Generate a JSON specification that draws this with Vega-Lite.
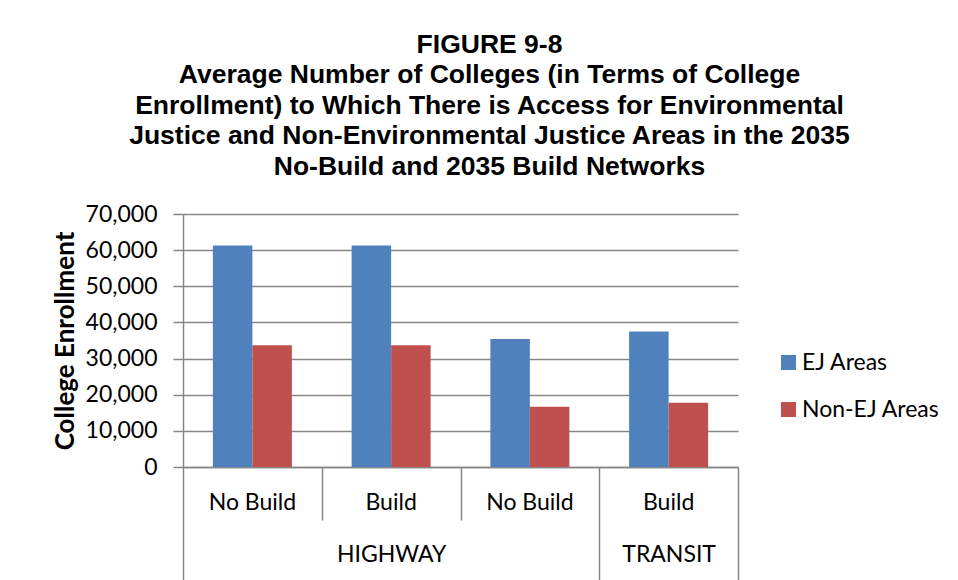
{
  "$schema": "https://vega.github.io/schema/vega-lite/v6.json",
  "width": 555,
  "height": 253,
  "autosize": "none",
  "padding": {"left": 183, "top": 214, "right": 220, "bottom": 113},
  "background": "white",
  "config": {"view": {"stroke": null}, "font": "Lato"},
  "title": {
    "text": ["FIGURE 9-8", "Average Number of Colleges (in Terms of College", "Enrollment) to Which There is Access for Environmental", "Justice and Non-Environmental Justice Areas in the 2035", "No-Build and 2035 Build Networks"],
    "font": "Liberation Sans",
    "fontSize": 26.5,
    "fontWeight": "bold",
    "lineHeight": 30.5,
    "anchor": "middle",
    "dx": 29,
    "offset": 23,
    "color": "black"
  },
  "layer": [
    {
      "data": {"values": [
        {"scenario": "HIGHWAY|No Build", "series": "EJ Areas", "value": 61300},
        {"scenario": "HIGHWAY|No Build", "series": "Non-EJ Areas", "value": 33700},
        {"scenario": "HIGHWAY|Build", "series": "EJ Areas", "value": 61300},
        {"scenario": "HIGHWAY|Build", "series": "Non-EJ Areas", "value": 33700},
        {"scenario": "TRANSIT|No Build", "series": "EJ Areas", "value": 35400},
        {"scenario": "TRANSIT|No Build", "series": "Non-EJ Areas", "value": 16700},
        {"scenario": "TRANSIT|Build", "series": "EJ Areas", "value": 37500},
        {"scenario": "TRANSIT|Build", "series": "Non-EJ Areas", "value": 17800}
      ]},
      "mark": {"type": "bar"},
      "encoding": {
        "x": {
          "field": "scenario", "type": "nominal", "sort": null,
          "scale": {"paddingInner": 0, "paddingOuter": 0},
          "axis": {"orient": "bottom", "title": null, "ticks": false, "labelAngle": 0,
            "labelExpr": "split(datum.label, '|')[1]",
            "labelFont": "Lato", "labelFontSize": 23, "labelColor": "black", "labelPadding": 24,
            "domainColor": "#868686", "domainWidth": 1.5}
        },
        "xOffset": {
          "field": "series", "type": "nominal", "sort": ["EJ Areas", "Non-EJ Areas"],
          "scale": {"paddingInner": 0, "paddingOuter": 0.756}
        },
        "y": {
          "field": "value", "type": "quantitative",
          "scale": {"domain": [0, 70000], "nice": false},
          "axis": {"values": [0, 10000, 20000, 30000, 40000, 50000, 60000, 70000], "format": ",d",
            "title": "College Enrollment", "titleFont": "Lato", "titleFontSize": 26, "titleFontWeight": "bold",
            "titleColor": "black", "titlePadding": 7,
            "labelFont": "Lato", "labelFontSize": 23, "labelColor": "black", "labelPadding": 16,
            "tickSize": 10, "tickColor": "#868686", "tickWidth": 1.5,
            "domainColor": "#868686", "domainWidth": 1.5,
            "gridColor": "#868686", "gridWidth": 1.5}
        },
        "color": {
          "field": "series", "type": "nominal",
          "scale": {"domain": ["EJ Areas", "Non-EJ Areas"], "range": ["#4F81BD", "#C0504D"]},
          "legend": {"orient": "none", "legendX": 594, "legendY": 137, "title": null,
            "labelFont": "Lato", "labelFontSize": 23, "labelColor": "black",
            "symbolType": "square", "symbolSize": 225, "symbolStrokeWidth": 0,
            "rowPadding": 23, "labelOffset": 2}
        }
      }
    },
    {
      "data": {"values": [{"pos": 0}, {"pos": 1}, {"pos": 2}, {"pos": 3}, {"pos": 4}]},
      "mark": {"type": "point", "opacity": 0},
      "encoding": {
        "x": {
          "field": "pos", "type": "quantitative",
          "scale": {"domain": [0, 4], "nice": false, "zero": false},
          "axis": {"orient": "bottom", "title": null, "values": [0, 1, 2, 3, 4], "labels": false,
            "domain": false, "grid": false, "tickColor": "#868686", "tickWidth": 1.5,
            "tickSize": {"condition": {"test": "datum.value == 1 || datum.value == 2", "value": 53}, "value": 113}}
        }
      }
    },
    {
      "data": {"values": [{"pos": 1.5, "network": "HIGHWAY"}, {"pos": 3.5, "network": "TRANSIT"}]},
      "mark": {"type": "point", "opacity": 0},
      "encoding": {
        "x": {
          "field": "pos", "type": "quantitative",
          "scale": {"domain": [0, 4], "nice": false, "zero": false},
          "axis": {"orient": "bottom", "title": null, "values": [1.5, 3.5], "ticks": false,
            "domain": false, "grid": false,
            "labelExpr": "datum.value == 1.5 ? 'HIGHWAY' : 'TRANSIT'",
            "labelFont": "Lato", "labelFontSize": 23, "labelColor": "black", "labelPadding": 76}
        }
      }
    }
  ],
  "resolve": {"scale": {"x": "independent"}, "axis": {"x": "independent"}}
}
